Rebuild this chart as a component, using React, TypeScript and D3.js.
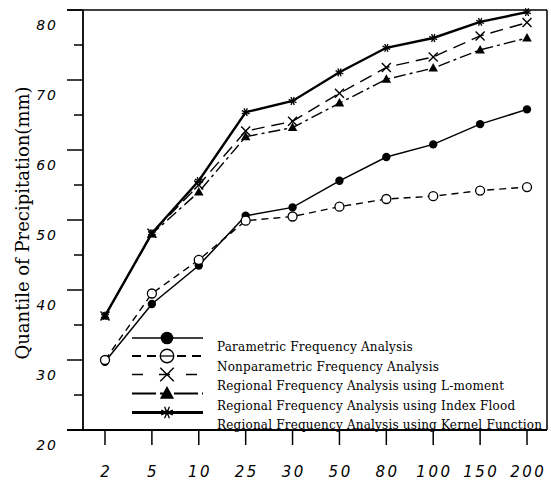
import React from 'react';
import * as d3 from 'd3';

const periods = ['2', '5', '10', '25', '30', '50', '80', '100', '150', '200'];
const parametric = [29.75, 38.0, 43.5, 50.6, 51.8, 55.6, 59.0, 60.8, 63.7, 65.8];
const nonparametric = [30.0, 39.5, 44.3, 49.9, 50.5, 51.9, 53.0, 53.4, 54.2, 54.7];
const lmoment = [36.3, 48.1, 55.0, 62.7, 64.1, 68.1, 71.8, 73.3, 76.3, 78.2];
const indexFlood = [36.3, 48.0, 54.0, 61.9, 63.2, 66.7, 70.1, 71.7, 74.3, 76.0];
const kernel = [36.3, 48.1, 55.6, 65.4, 67.0, 71.1, 74.6, 76.0, 78.3, 79.7];
const yTicks = [20, 30, 40, 50, 60, 70, 80];
const yMinorTicks = [25, 35, 45, 55, 65, 75];
const legendLabels = [
  'Parametric Frequency Analysis',
  'Nonparametric Frequency Analysis',
  'Regional Frequency Analysis using L-moment',
  'Regional Frequency Analysis using Index Flood',
  'Regional Frequency Analysis using Kernel Function',
];
const yTitle = 'Quantile of Precipitation(mm)';

type Sym = 'dot' | 'ring' | 'cross' | 'tri' | 'star';
const series: { values: number[]; sym: Sym; dash: string; width: number; legDash: string; legWidth: number }[] = [
  { values: parametric, sym: 'dot', dash: '', width: 1.5, legDash: '', legWidth: 1.6 },
  { values: nonparametric, sym: 'ring', dash: '7,5', width: 1.4, legDash: '9,6', legWidth: 2 },
  { values: lmoment, sym: 'cross', dash: '13,7', width: 1.4, legDash: '11,16', legWidth: 1.3 },
  { values: indexFlood, sym: 'tri', dash: '12,4,3,4', width: 1.4, legDash: '24,4,3,4,3,4', legWidth: 1.8 },
  { values: kernel, sym: 'star', dash: '', width: 2.4, legDash: '', legWidth: 3 },
];

function Marker({ sym, x, y, s }: { sym: Sym; x: number; y: number; s: number }) {
  if (sym === 'dot') return <circle cx={x} cy={y} r={4.2 * s} fill="#000" />;
  if (sym === 'ring')
    return (
      <g>
        <circle cx={x} cy={y} r={4.5 * s} fill="#fff" stroke="#000" strokeWidth={1.3} />
        {s > 1 && <line x1={x - 4.5 * s} x2={x + 4.5 * s} y1={y} y2={y} stroke="#000" strokeWidth={1.3} />}
      </g>
    );
  if (sym === 'cross') {
    const h = 4.5 * s;
    return (
      <g stroke="#000" strokeWidth={1.4}>
        <line x1={x - h} y1={y - h} x2={x + h} y2={y + h} />
        <line x1={x - h} y1={y + h} x2={x + h} y2={y - h} />
      </g>
    );
  }
  if (sym === 'tri') {
    const h = 5 * s;
    const p = d3.path();
    p.moveTo(x, y - h);
    p.lineTo(x + h * 0.95, y + h * 0.7);
    p.lineTo(x - h * 0.95, y + h * 0.7);
    p.closePath();
    return <path d={p.toString()} fill="#000" />;
  }
  const r = 4.2 * s;
  const angles = d3.range(8).map((i) => (i * Math.PI) / 4 + Math.PI / 8);
  return (
    <g stroke="#000" strokeWidth={1.3}>
      {angles.map((a, i) => (
        <line key={i} x1={x} y1={y} x2={x + r * Math.cos(a)} y2={y + r * Math.sin(a)} />
      ))}
      <circle cx={x} cy={y} r={1.6 * s} fill="#000" stroke="none" />
    </g>
  );
}

export default function App() {
  const W = 551;
  const H = 483;
  const left = 83;
  const right = 547;
  const top = 10;
  const bottom = 430;
  const x = d3.scalePoint<string>().domain(periods).range([105, 527]);
  const y = d3.scaleLinear().domain([20, 80]).range([bottom, top]);
  const line = d3
    .line<number>()
    .x((_, i) => x(periods[i]) as number)
    .y((v) => y(v));

  const legX1 = 132;
  const legX2 = 203;
  const legSymX = 167;
  const legSymY = [338, 356, 374.5, 393.5, 412.5];
  const legTextY = [352, 371.5, 391, 410.5, 430];

  return (
    <svg width={W} height={H} style={{ position: 'absolute', left: 0, top: 0, background: '#fff' }}>
      <rect x={0} y={0} width={W} height={H} fill="#fff" />
      {/* frame */}
      <line x1={left} x2={left} y1={top} y2={bottom} stroke="#000" strokeWidth={1.8} />
      <line x1={right} x2={right} y1={top} y2={bottom} stroke="#000" strokeWidth={1.5} />
      <line x1={67} x2={right} y1={top} y2={top} stroke="#000" strokeWidth={1.5} />
      <line x1={67} x2={right} y1={bottom} y2={bottom} stroke="#000" strokeWidth={1.8} />
      {/* y ticks */}
      {yTicks.map((t) => (
        <g key={t}>
          <line x1={67} x2={left} y1={y(t)} y2={y(t)} stroke="#000" strokeWidth={1.5} />
          <text
            x={58}
            y={y(t) + 20}
            textAnchor="end"
            fontFamily="DejaVu Sans"
            fontStyle="italic"
            fontSize={14}
            letterSpacing={2}
          >
            {t}
          </text>
        </g>
      ))}
      {yMinorTicks.map((t) => (
        <line key={t} x1={74} x2={left} y1={y(t)} y2={y(t)} stroke="#000" strokeWidth={1.5} />
      ))}
      {/* x ticks */}
      {periods.map((p) => (
        <g key={p}>
          <line x1={x(p)} x2={x(p)} y1={bottom} y2={bottom + 15} stroke="#000" strokeWidth={1.5} />
          <text
            x={(x(p) as number) + 1.2}
            y={477}
            textAnchor="middle"
            fontFamily="DejaVu Sans"
            fontStyle="italic"
            fontSize={15}
            letterSpacing={2.5}
          >
            {p}
          </text>
        </g>
      ))}
      {/* y title */}
      <text
        transform={`translate(29,${223}) rotate(-90)`}
        textAnchor="middle"
        fontFamily="DejaVu Serif"
        fontSize={18}
      >
        {yTitle}
      </text>
      {/* series lines */}
      {series.map((s, i) => (
        <path
          key={i}
          d={line(s.values) || ''}
          fill="none"
          stroke="#000"
          strokeWidth={s.width}
          strokeDasharray={s.dash || undefined}
        />
      ))}
      {series.map((s, i) => (
        <g key={i}>
          {s.values.map((v, j) => (
            <Marker key={j} sym={s.sym} x={x(periods[j]) as number} y={y(v)} s={1} />
          ))}
        </g>
      ))}
      {/* legend */}
      {series.map((s, i) => (
        <g key={i}>
          <line
            x1={legX1}
            x2={legX2}
            y1={legSymY[i]}
            y2={legSymY[i]}
            stroke="#000"
            strokeWidth={s.legWidth}
            strokeDasharray={s.legDash || undefined}
          />
          {s.sym === 'ring' && <circle cx={legSymX} cy={legSymY[i]} r={7} fill="#fff" />}
          <Marker sym={s.sym} x={legSymX} y={legSymY[i]} s={1.5} />
          <text x={217} y={legTextY[i] - 1} fontFamily="DejaVu Serif" fontSize={12} letterSpacing={0.2}>
            {legendLabels[i]}
          </text>
        </g>
      ))}
    </svg>
  );
}
